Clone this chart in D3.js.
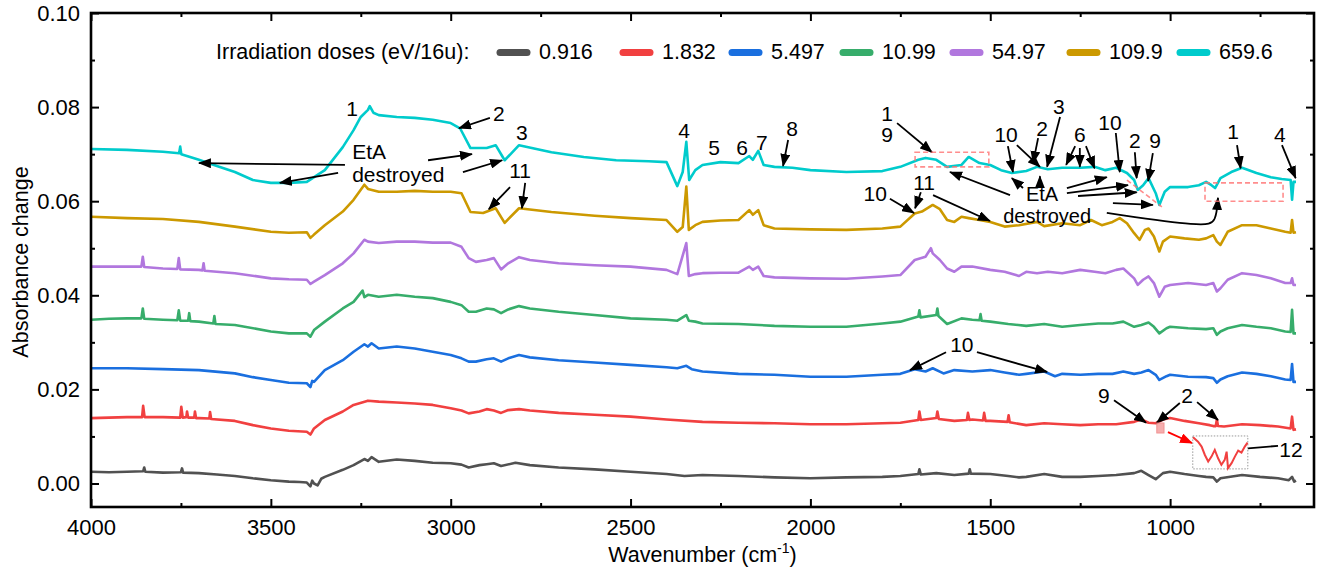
<!DOCTYPE html>
<html>
<head>
<meta charset="utf-8">
<script src="https://cdn.jsdelivr.net/npm/d3@7"></script>
<style>
  body { margin: 0; background: #fff; }
  svg { font-family: Arial, "Liberation Sans", sans-serif; }
</style>
</head>
<body>
<svg id="chart" width="1336" height="574"></svg>
<script>
// --- data: [wavenumber cm-1, absorbance change] ---
const doses = ['0.916', '1.832', '5.497', '10.99', '54.97', '109.9', '659.6'];
const colors = ['#515151', '#F14040', '#1A6FDF', '#37AD6B', '#B177DE', '#CC9900', '#00CBCC'];
const xMajor = [4000, 3500, 3000, 2500, 2000, 1500, 1000];
const xMinor = [3750, 3250, 2750, 2250, 1750, 1250, 750];
const yMajor = [0, 0.02, 0.04, 0.06, 0.08, 0.10];
const yMinor = [0.01, 0.03, 0.05, 0.07, 0.09];

const dose0_916 = [[4000,0.0025],[3950,0.0024],[3900,0.0025],[3855,0.0026],[3852,0.0034],[3849,0.0025],[3800,0.0023],[3750,0.0024],[3747,0.0032],[3744,0.0023],[3700,0.0022],[3650,0.0019],[3600,0.0016],[3550,0.0011],[3500,0.0007],[3450,0.0004],[3420,0.0003],[3400,0.0002],[3390,-0.0006],[3385,0.0006],[3380,0.0000],[3370,-0.0004],[3360,0.0010],[3350,0.0014],[3300,0.0029],[3270,0.0039],[3240,0.0052],[3230,0.0048],[3220,0.0056],[3200,0.0046],[3150,0.0051],[3100,0.0048],[3050,0.0044],[3000,0.0043],[2970,0.0040],[2950,0.0034],[2920,0.0039],[2900,0.0041],[2880,0.0043],[2860,0.0037],[2820,0.0044],[2780,0.0039],[2700,0.0034],[2600,0.0030],[2500,0.0025],[2400,0.0020],[2350,0.0016],[2300,0.0018],[2200,0.0016],[2100,0.0013],[2000,0.0011],[1900,0.0013],[1800,0.0014],[1750,0.0016],[1700,0.0020],[1697,0.0030],[1693,0.0019],[1650,0.0022],[1600,0.0018],[1560,0.0021],[1557,0.0030],[1554,0.0021],[1500,0.0020],[1450,0.0016],[1420,0.0013],[1400,0.0014],[1350,0.0020],[1300,0.0014],[1250,0.0014],[1200,0.0016],[1150,0.0018],[1100,0.0022],[1080,0.0027],[1060,0.0018],[1040,0.0009],[1020,0.0022],[1000,0.0025],[960,0.0020],[920,0.0016],[900,0.0014],[880,0.0013],[870,0.0004],[860,0.0011],[800,0.0018],[750,0.0014],[700,0.0011],[670,0.0007],[661,0.0014],[655,0.0004],[650,0.0006]];

const dose1_832 = [[4000,0.0139],[3950,0.0140],[3900,0.0141],[3858,0.0141],[3855,0.0165],[3851,0.0141],[3800,0.0141],[3752,0.0140],[3749,0.0163],[3745,0.0140],[3735,0.0141],[3733,0.0153],[3730,0.0140],[3713,0.0140],[3711,0.0153],[3708,0.0139],[3700,0.0139],[3671,0.0138],[3669,0.0152],[3666,0.0137],[3600,0.0133],[3550,0.0124],[3500,0.0117],[3450,0.0112],[3400,0.0110],[3390,0.0104],[3380,0.0117],[3350,0.0135],[3300,0.0153],[3270,0.0167],[3230,0.0176],[3200,0.0174],[3150,0.0172],[3100,0.0170],[3050,0.0167],[3000,0.0160],[2970,0.0155],[2950,0.0149],[2920,0.0153],[2900,0.0158],[2880,0.0155],[2860,0.0150],[2840,0.0156],[2810,0.0158],[2780,0.0155],[2700,0.0150],[2600,0.0146],[2500,0.0142],[2400,0.0136],[2300,0.0131],[2200,0.0129],[2100,0.0128],[2000,0.0126],[1900,0.0126],[1800,0.0128],[1750,0.0129],[1700,0.0135],[1697,0.0153],[1693,0.0135],[1650,0.0139],[1647,0.0153],[1643,0.0137],[1600,0.0133],[1565,0.0135],[1562,0.0150],[1558,0.0135],[1550,0.0136],[1520,0.0134],[1517,0.0150],[1513,0.0133],[1500,0.0133],[1452,0.0131],[1449,0.0145],[1446,0.0130],[1400,0.0124],[1350,0.0128],[1300,0.0126],[1250,0.0124],[1200,0.0126],[1150,0.0126],[1100,0.0131],[1080,0.0136],[1060,0.0129],[1040,0.0128],[1020,0.0136],[1000,0.0139],[960,0.0133],[920,0.0128],[890,0.0124],[880,0.0122],[873,0.0122],[870,0.0136],[867,0.0122],[850,0.0121],[800,0.0126],[750,0.0124],[700,0.0121],[665,0.0117],[661,0.0142],[657,0.0114],[650,0.0115]];

const dose5_497 = [[4000,0.0245],[3900,0.0245],[3800,0.0243],[3700,0.0241],[3600,0.0234],[3550,0.0226],[3500,0.0220],[3450,0.0214],[3400,0.0213],[3390,0.0205],[3385,0.0218],[3380,0.0216],[3350,0.0241],[3300,0.0262],[3270,0.0280],[3240,0.0296],[3230,0.0291],[3220,0.0298],[3200,0.0287],[3150,0.0291],[3100,0.0287],[3050,0.0280],[3000,0.0273],[2970,0.0266],[2950,0.0259],[2930,0.0259],[2900,0.0264],[2880,0.0266],[2860,0.0259],[2840,0.0266],[2810,0.0273],[2780,0.0268],[2700,0.0262],[2600,0.0257],[2500,0.0252],[2400,0.0247],[2370,0.0245],[2345,0.0250],[2330,0.0243],[2300,0.0238],[2200,0.0233],[2100,0.0231],[2000,0.0227],[1900,0.0227],[1800,0.0231],[1750,0.0233],[1710,0.0243],[1680,0.0238],[1660,0.0245],[1630,0.0234],[1600,0.0241],[1550,0.0238],[1500,0.0241],[1460,0.0236],[1420,0.0231],[1400,0.0233],[1350,0.0238],[1320,0.0228],[1300,0.0233],[1250,0.0231],[1200,0.0233],[1160,0.0233],[1130,0.0238],[1100,0.0233],[1080,0.0236],[1060,0.0241],[1040,0.0231],[1030,0.0220],[1010,0.0228],[1000,0.0231],[950,0.0227],[900,0.0226],[880,0.0224],[870,0.0214],[860,0.0221],[840,0.0228],[800,0.0236],[760,0.0233],[720,0.0228],[680,0.0221],[665,0.0220],[661,0.0254],[657,0.0216],[650,0.0216]];

const dose10_99 = [[4000,0.0348],[3950,0.0350],[3900,0.0351],[3860,0.0351],[3856,0.0372],[3852,0.0350],[3800,0.0348],[3760,0.0347],[3756,0.0368],[3752,0.0346],[3730,0.0346],[3727,0.0362],[3724,0.0345],[3700,0.0344],[3660,0.0340],[3657,0.0356],[3654,0.0339],[3600,0.0337],[3500,0.0323],[3450,0.0319],[3400,0.0319],[3390,0.0312],[3380,0.0326],[3350,0.0344],[3300,0.0372],[3270,0.0386],[3245,0.0410],[3240,0.0396],[3230,0.0401],[3200,0.0397],[3150,0.0401],[3100,0.0397],[3050,0.0394],[3000,0.0386],[2970,0.0379],[2950,0.0365],[2930,0.0365],[2900,0.0372],[2880,0.0370],[2860,0.0362],[2840,0.0370],[2810,0.0377],[2780,0.0372],[2700,0.0365],[2600,0.0358],[2500,0.0351],[2400,0.0348],[2370,0.0346],[2345,0.0358],[2338,0.0346],[2320,0.0344],[2300,0.0340],[2200,0.0339],[2100,0.0335],[2000,0.0333],[1900,0.0333],[1800,0.0340],[1750,0.0344],[1700,0.0355],[1697,0.0368],[1694,0.0353],[1650,0.0358],[1647,0.0372],[1644,0.0356],[1620,0.0339],[1580,0.0351],[1550,0.0348],[1530,0.0347],[1527,0.0360],[1524,0.0346],[1500,0.0344],[1450,0.0339],[1400,0.0335],[1350,0.0339],[1300,0.0333],[1250,0.0337],[1200,0.0340],[1160,0.0340],[1130,0.0344],[1100,0.0333],[1080,0.0337],[1060,0.0342],[1045,0.0333],[1030,0.0319],[1010,0.0330],[1000,0.0333],[950,0.0330],[900,0.0328],[880,0.0330],[870,0.0316],[860,0.0323],[840,0.0330],[800,0.0337],[760,0.0333],[720,0.0330],[680,0.0323],[665,0.0322],[661,0.0369],[657,0.0319],[650,0.0319]];

const dose54_97 = [[4000,0.0461],[3900,0.0461],[3860,0.0461],[3856,0.0482],[3852,0.0460],[3800,0.0457],[3760,0.0456],[3756,0.0479],[3752,0.0455],[3700,0.0454],[3690,0.0453],[3687,0.0468],[3684,0.0452],[3600,0.0447],[3500,0.0436],[3450,0.0434],[3400,0.0433],[3390,0.0424],[3380,0.0429],[3350,0.0443],[3300,0.0468],[3270,0.0489],[3240,0.0518],[3230,0.0514],[3200,0.0511],[3150,0.0514],[3100,0.0514],[3050,0.0512],[3000,0.0512],[2970,0.0503],[2950,0.0479],[2930,0.0471],[2900,0.0475],[2880,0.0479],[2860,0.0455],[2840,0.0468],[2810,0.0481],[2780,0.0475],[2700,0.0468],[2600,0.0464],[2500,0.0461],[2400,0.0454],[2370,0.0445],[2345,0.0511],[2338,0.0441],[2320,0.0445],[2300,0.0447],[2250,0.0448],[2200,0.0448],[2170,0.0461],[2160,0.0454],[2145,0.0461],[2130,0.0441],[2100,0.0438],[2000,0.0436],[1900,0.0435],[1800,0.0440],[1750,0.0443],[1710,0.0475],[1680,0.0482],[1665,0.0500],[1660,0.0489],[1640,0.0475],[1620,0.0457],[1600,0.0450],[1580,0.0461],[1550,0.0461],[1500,0.0454],[1460,0.0450],[1420,0.0441],[1400,0.0450],[1370,0.0447],[1340,0.0450],[1300,0.0447],[1250,0.0454],[1210,0.0450],[1180,0.0447],[1150,0.0454],[1130,0.0457],[1100,0.0436],[1090,0.0422],[1075,0.0433],[1060,0.0440],[1045,0.0426],[1030,0.0397],[1015,0.0418],[1000,0.0422],[950,0.0426],[900,0.0422],[880,0.0426],[870,0.0408],[860,0.0415],[840,0.0433],[800,0.0447],[760,0.0443],[720,0.0436],[680,0.0426],[665,0.0426],[661,0.0436],[657,0.0422],[650,0.0422]];

const dose109_9 = [[4000,0.0567],[3900,0.0564],[3800,0.0562],[3700,0.0556],[3600,0.0546],[3500,0.0535],[3450,0.0533],[3400,0.0534],[3390,0.0522],[3380,0.0529],[3350,0.0549],[3300,0.0578],[3270,0.0603],[3240,0.0635],[3230,0.0626],[3200,0.0620],[3150,0.0620],[3100,0.0622],[3050,0.0620],[3000,0.0620],[2970,0.0617],[2945,0.0577],[2910,0.0575],[2875,0.0585],[2850,0.0554],[2810,0.0585],[2720,0.0577],[2600,0.0569],[2500,0.0564],[2400,0.0560],[2370,0.0535],[2355,0.0545],[2345,0.0631],[2338,0.0539],[2320,0.0549],[2300,0.0556],[2250,0.0559],[2200,0.0560],[2170,0.0581],[2160,0.0571],[2145,0.0581],[2130,0.0549],[2100,0.0542],[2000,0.0540],[1900,0.0539],[1800,0.0542],[1750,0.0546],[1710,0.0574],[1690,0.0578],[1660,0.0592],[1640,0.0583],[1620,0.0560],[1600,0.0556],[1580,0.0567],[1560,0.0564],[1530,0.0560],[1500,0.0556],[1460,0.0546],[1420,0.0549],[1370,0.0556],[1350,0.0547],[1300,0.0553],[1250,0.0549],[1220,0.0560],[1190,0.0549],[1160,0.0556],[1140,0.0564],[1120,0.0553],[1100,0.0532],[1085,0.0518],[1070,0.0539],[1060,0.0542],[1045,0.0525],[1030,0.0493],[1020,0.0514],[1000,0.0525],[960,0.0521],[920,0.0518],[900,0.0521],[880,0.0528],[870,0.0514],[860,0.0507],[840,0.0535],[800,0.0549],[760,0.0549],[720,0.0542],[680,0.0535],[665,0.0533],[661,0.0560],[657,0.0533],[650,0.0534]];

const dose659_6 = [[4000,0.0711],[3900,0.0709],[3800,0.0705],[3755,0.0702],[3752,0.0716],[3749,0.0700],[3700,0.0688],[3650,0.0675],[3600,0.0662],[3550,0.0645],[3500,0.0639],[3450,0.0639],[3400,0.0641],[3350,0.0666],[3300,0.0715],[3270,0.0751],[3250,0.0779],[3230,0.0794],[3225,0.0802],[3215,0.0788],[3200,0.0783],[3150,0.0779],[3100,0.0777],[3050,0.0773],[3000,0.0766],[2974,0.0755],[2945,0.0713],[2900,0.0713],[2875,0.0719],[2850,0.0687],[2810,0.0719],[2720,0.0704],[2630,0.0694],[2540,0.0687],[2450,0.0685],[2400,0.0683],[2370,0.0632],[2355,0.0662],[2345,0.0726],[2337,0.0645],[2320,0.0666],[2300,0.0677],[2250,0.0683],[2200,0.0681],[2170,0.0696],[2160,0.0688],[2145,0.0707],[2130,0.0677],[2100,0.0673],[2050,0.0671],[2000,0.0666],[1900,0.0662],[1800,0.0664],[1750,0.0673],[1700,0.0688],[1680,0.0692],[1650,0.0688],[1620,0.0673],[1580,0.0677],[1560,0.0694],[1530,0.0681],[1500,0.0677],[1470,0.0666],[1440,0.0660],[1400,0.0664],[1370,0.0673],[1340,0.0668],[1300,0.0671],[1250,0.0671],[1210,0.0673],[1180,0.0666],[1150,0.0671],[1120,0.0660],[1100,0.0645],[1090,0.0624],[1075,0.0634],[1060,0.0649],[1040,0.0617],[1030,0.0592],[1015,0.0620],[1000,0.0630],[950,0.0630],[920,0.0634],[900,0.0641],[885,0.0634],[875,0.0628],[860,0.0649],[830,0.0662],[800,0.0671],[760,0.0660],[720,0.0651],[690,0.0647],[665,0.0645],[661,0.0603],[657,0.0641],[650,0.0641]];

// zoomed piece of the 1.832 spectrum shown in the small inset box
const insetTrace = [[1036.9,0.01281],[1035.1,0.01252],[1033.8,0.01219],[1032.6,0.01163],[1031.4,0.01119],[1030.2,0.01152],[1029.0,0.01197],[1027.8,0.01141],[1026.6,0.01097],[1025.4,0.01130],[1024.7,0.01185],[1024.2,0.01075],[1022.9,0.01108],[1021.7,0.01152],[1020.5,0.01192],[1019.3,0.01179],[1018.1,0.01219],[1017.1,0.01245]];

const seriesList = [dose0_916, dose1_832, dose5_497, dose10_99, dose54_97, dose109_9, dose659_6];

// annotation text: [text, wavenumber, absorbance]
const numberNotes = [
  ['1',3274,0.0798],['2',2866,0.0787],['3',2802,0.0745],['11',2807,0.0666],
  ['4',2351,0.0751],['5',2268,0.0715],['6',2190,0.0715],['7',2135,0.0724],['8',2051,0.0755],
  ['1',1787,0.0787],['9',1787,0.0741],['10',1456,0.0741],['2',1356,0.0755],['3',1309,0.0802],
  ['6',1251,0.0741],['10',1167,0.0768],['2',1098,0.0728],['9',1042,0.0728],['1',825,0.0749],['4',695,0.0741],
  ['10',1820,0.0617],['11',1684,0.0639],['10',1579,0.0296],
  ['9',1184,0.0186],['2',953,0.0188],['12',664,0.0073]
];
// arrows: [w1, a1, w2, a2] (tip at the second point)
const arrowNotes = [
  [2891,0.0777,2977,0.0755],
  [3294,0.0677,3700,0.0681],[3313,0.0660,3475,0.0639],
  [3063,0.0687,2941,0.0700],[2966,0.0662,2857,0.0687],
  [2835,0.0630,2894,0.0583],[2793,0.0639,2802,0.0585],
  [2062,0.0730,2076,0.0675],
  [1759,0.0766,1662,0.0704],
  [1451,0.0717,1437,0.0662],[1426,0.0719,1362,0.0673],
  [1367,0.0734,1381,0.0681],[1306,0.0779,1342,0.0673],
  [1264,0.0717,1289,0.0677],[1251,0.0713,1251,0.0673],[1234,0.0717,1210,0.0670],
  [1151,0.0745,1140,0.0662],[1098,0.0704,1093,0.0649],[1048,0.0702,1061,0.0643],
  [814,0.0719,804,0.0670],[689,0.0719,651,0.0649],
  [1445,0.0613,1612,0.0662],[1409,0.0628,1440,0.0649],[1362,0.0630,1362,0.0653],
  [1287,0.0628,1176,0.0651],[1287,0.0617,1117,0.0634],[1256,0.0611,1093,0.0619],[1159,0.0596,1048,0.0592],
  [1779,0.0605,1712,0.0575],[1693,0.0619,1709,0.0585],[1659,0.0613,1501,0.0558],
  [1623,0.0279,1723,0.0241],[1537,0.0279,1342,0.0237],
  [1156,0.0177,1067,0.0129],[973,0.0171,1037,0.0129],[925,0.0173,867,0.0135],
  [700,0.0080,842,0.0071]
];
const curvedArrow = [[1176,0.0575],[903,0.0545],[872,0.0556],[867,0.0607]];
const redArrow = [1006,0.0109,939,0.0086];
const dashedBoxes = [[1709,0.0704,1504,0.0673],[903,0.0639,686,0.0600]];
const dashedSlash = [1120,0.0645,1023,0.0588];
const pinkSquare = [1037,0.01286,1017,0.01073];
const insetBox = [937,0.0101,784,0.0031];

// --- layout ---
const svg = d3.select('#chart');
const plot = { left: 91, right: 1314, top: 13, bottom: 507 };
const x = d3.scaleLinear().domain([4000, 600]).range([plot.left, plot.right]);
const y = d3.scaleLinear().domain([-0.005, 0.1]).range([plot.bottom, plot.top]);

const defs = svg.append('defs');
function marker(id, color) {
  defs.append('marker').attr('id', id)
    .attr('viewBox', '0 0 13 10').attr('refX', 12).attr('refY', 5)
    .attr('markerWidth', 13).attr('markerHeight', 10)
    .attr('markerUnits', 'userSpaceOnUse').attr('orient', 'auto')
    .append('path').attr('d', 'M0,0L13,5L0,10Z').attr('fill', color);
}
marker('ah', '#000');
marker('ahRed', '#F00');
defs.append('clipPath').attr('id', 'plotClip').append('rect')
  .attr('x', plot.left).attr('y', plot.top)
  .attr('width', plot.right - plot.left).attr('height', plot.bottom - plot.top);

// spectra
const line = d3.line().x(d => x(d[0])).y(d => y(d[1]));
svg.append('g').attr('clip-path', 'url(#plotClip)')
  .selectAll('path').data(seriesList).join('path')
  .attr('d', line)
  .attr('fill', 'none')
  .attr('stroke', (d, i) => colors[i])
  .attr('stroke-width', 2.6)
  .attr('stroke-linejoin', 'round');

// axes (ticks point inward on all four sides)
function styleAxis(g) {
  g.select('.domain').remove();
  g.selectAll('.tick line').attr('stroke', '#000').attr('stroke-width', 2);
  g.selectAll('.tick text').attr('font-size', 22).attr('fill', '#000')
    .attr('font-family', 'Arial, "Liberation Sans", sans-serif');
}
svg.append('g').attr('transform', `translate(0,${plot.bottom})`)
  .call(d3.axisBottom(x).tickValues(xMajor).tickSize(-8).tickPadding(12).tickFormat(d3.format('d')))
  .call(styleAxis);
svg.append('g').attr('transform', `translate(0,${plot.bottom})`)
  .call(d3.axisBottom(x).tickValues(xMinor).tickSize(-4).tickFormat(''))
  .call(styleAxis);
svg.append('g').attr('transform', `translate(0,${plot.top})`)
  .call(d3.axisTop(x).tickValues(xMajor).tickSize(-8).tickFormat(''))
  .call(styleAxis);
svg.append('g').attr('transform', `translate(0,${plot.top})`)
  .call(d3.axisTop(x).tickValues(xMinor).tickSize(-4).tickFormat(''))
  .call(styleAxis);
svg.append('g').attr('transform', `translate(${plot.left},0)`)
  .call(d3.axisLeft(y).tickValues(yMajor).tickSize(-8).tickPadding(11).tickFormat(d3.format('.2f')))
  .call(styleAxis);
svg.append('g').attr('transform', `translate(${plot.left},0)`)
  .call(d3.axisLeft(y).tickValues(yMinor).tickSize(-4).tickFormat(''))
  .call(styleAxis);
svg.append('g').attr('transform', `translate(${plot.right},0)`)
  .call(d3.axisRight(y).tickValues(yMajor).tickSize(-8).tickFormat(''))
  .call(styleAxis);
svg.append('g').attr('transform', `translate(${plot.right},0)`)
  .call(d3.axisRight(y).tickValues(yMinor).tickSize(-4).tickFormat(''))
  .call(styleAxis);

svg.append('rect').attr('x', plot.left).attr('y', plot.top)
  .attr('width', plot.right - plot.left).attr('height', plot.bottom - plot.top)
  .attr('fill', 'none').attr('stroke', '#000').attr('stroke-width', 2.6);

// axis titles
svg.append('text')
  .attr('transform', `translate(21,${(plot.top + plot.bottom) / 2 + 2}) rotate(-90)`)
  .attr('text-anchor', 'middle').attr('dominant-baseline', 'central')
  .attr('font-size', 21.5).text('Absorbance change');
const xt = svg.append('text').attr('x', (plot.left + plot.right) / 2).attr('y', 562)
  .attr('text-anchor', 'middle').attr('font-size', 21.5);
xt.append('tspan').text('Wavenumber (cm');
xt.append('tspan').attr('font-size', 14).attr('dy', -9).text('-1');
xt.append('tspan').attr('dy', 9).text(')');

// legend
const legendSwatchX = [497, 620, 729, 840, 950, 1067, 1177];
const legendY = 52;
svg.append('text').attr('x', 216).attr('y', legendY).attr('dominant-baseline', 'central')
  .attr('font-size', 21.5).text('Irradiation doses (eV/16u):');
const lg = svg.append('g').selectAll('g').data(doses).join('g')
  .attr('transform', (d, i) => `translate(${legendSwatchX[i]},${legendY})`);
lg.append('line').attr('x1', 3).attr('x2', 30).attr('y1', 0.5).attr('y2', 0.5)
  .attr('stroke', (d, i) => colors[i]).attr('stroke-width', 7).attr('stroke-linecap', 'round');
lg.append('text').attr('x', 42).attr('dominant-baseline', 'central')
  .attr('font-size', 21.5).text(d => d);

// annotations
const ann = svg.append('g');
ann.selectAll('line.arrow').data(arrowNotes).join('line').attr('class', 'arrow')
  .attr('x1', d => x(d[0])).attr('y1', d => y(d[1]))
  .attr('x2', d => x(d[2])).attr('y2', d => y(d[3]))
  .attr('stroke', '#000').attr('stroke-width', 1.8).attr('marker-end', 'url(#ah)');
ann.append('path')
  .attr('d', d3.line().x(d => x(d[0])).y(d => y(d[1])).curve(d3.curveBasis)(curvedArrow))
  .attr('fill', 'none').attr('stroke', '#000').attr('stroke-width', 1.8).attr('marker-end', 'url(#ah)');
ann.append('line')
  .attr('x1', x(redArrow[0])).attr('y1', y(redArrow[1]))
  .attr('x2', x(redArrow[2])).attr('y2', y(redArrow[3]))
  .attr('stroke', '#F00').attr('stroke-width', 1.8).attr('marker-end', 'url(#ahRed)');

ann.selectAll('rect.dash').data(dashedBoxes).join('rect').attr('class', 'dash')
  .attr('x', d => x(d[0])).attr('y', d => y(d[1]))
  .attr('width', d => x(d[2]) - x(d[0])).attr('height', d => y(d[3]) - y(d[1]))
  .attr('fill', 'none').attr('stroke', '#FF7070').attr('stroke-width', 1.6)
  .attr('stroke-dasharray', '5,3').attr('opacity', 0.8);
ann.append('line')
  .attr('x1', x(dashedSlash[0])).attr('y1', y(dashedSlash[1]))
  .attr('x2', x(dashedSlash[2])).attr('y2', y(dashedSlash[3]))
  .attr('stroke', '#FF7070').attr('stroke-width', 1.6).attr('stroke-dasharray', '5,3').attr('opacity', 0.8);

ann.append('rect')
  .attr('x', x(pinkSquare[0])).attr('y', y(pinkSquare[1]))
  .attr('width', x(pinkSquare[2]) - x(pinkSquare[0])).attr('height', y(pinkSquare[3]) - y(pinkSquare[1]))
  .attr('fill', '#F4A0A0').attr('stroke', '#F08080').attr('opacity', 0.85);

// inset box with the zoomed trace
const ix = d3.scaleLinear().domain([1037, 1017]).range([x(insetBox[0]), x(insetBox[2])]);
const iy = d3.scaleLinear().domain([0.0107, 0.0129]).range([y(insetBox[3]), y(insetBox[1])]);
ann.append('rect')
  .attr('x', x(insetBox[0])).attr('y', y(insetBox[1]))
  .attr('width', x(insetBox[2]) - x(insetBox[0])).attr('height', y(insetBox[3]) - y(insetBox[1]))
  .attr('fill', '#fff').attr('stroke', '#999').attr('stroke-width', 1)
  .attr('stroke-dasharray', '1.5,1.5');
ann.append('path')
  .attr('d', d3.line().x(d => ix(d[0])).y(d => iy(d[1]))(insetTrace))
  .attr('fill', 'none').attr('stroke', '#F14040').attr('stroke-width', 2);

ann.selectAll('text.num').data(numberNotes).join('text').attr('class', 'num')
  .attr('x', d => x(d[1])).attr('y', d => y(d[2]))
  .attr('text-anchor', 'middle').attr('dominant-baseline', 'central')
  .attr('font-size', 21).text(d => d[0]);

// "EtA destroyed" labels
ann.append('text').attr('x', x(3274)).attr('y', y(0.0705)).attr('dominant-baseline', 'central')
  .attr('font-size', 21).text('EtA');
ann.append('text').attr('x', x(3274)).attr('y', y(0.0656)).attr('dominant-baseline', 'central')
  .attr('font-size', 21).text('destroyed');
ann.append('text').attr('x', x(1356)).attr('y', y(0.0616)).attr('text-anchor', 'middle')
  .attr('dominant-baseline', 'central').attr('font-size', 20).text('EtA');
ann.append('text').attr('x', x(1342)).attr('y', y(0.0568)).attr('text-anchor', 'middle')
  .attr('dominant-baseline', 'central').attr('font-size', 20).text('destroyed');
</script>
</body>
</html>
